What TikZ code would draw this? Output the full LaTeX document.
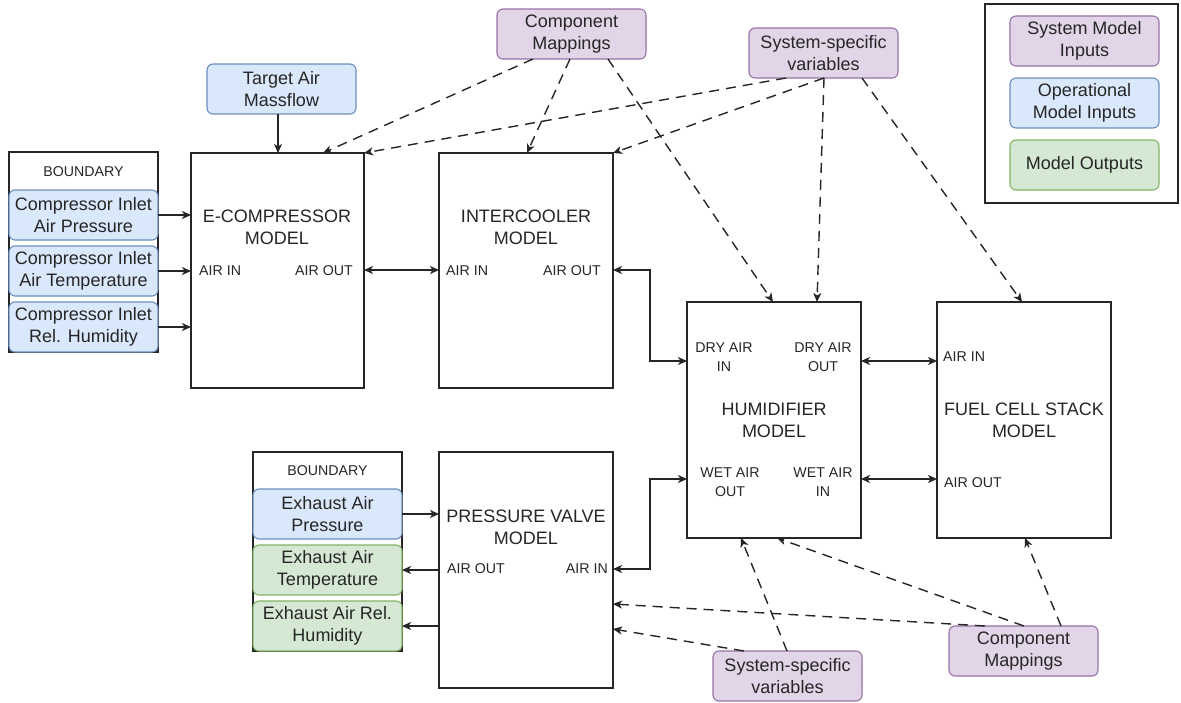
\documentclass[tikz,border=0pt]{standalone}
\usepackage{fontspec}
\setmainfont{Liberation Sans}
\usetikzlibrary{arrows.meta,calc}
\definecolor{txt}{HTML}{262626}
\definecolor{ln}{HTML}{262626}
\definecolor{purF}{HTML}{E1D5E7}\definecolor{purD}{HTML}{9673A6}
\definecolor{bluF}{HTML}{DAE8FC}\definecolor{bluD}{HTML}{6C8EBF}
\definecolor{grnF}{HTML}{D5E8D4}\definecolor{grnD}{HTML}{82B366}
\begin{document}
\begin{tikzpicture}[x=1pt,y=-1pt,
  every node/.style={text=txt, font=\fontsize{18}{21.5}\selectfont},
  mbox/.style={draw=ln, line width=1.4pt, fill=white, inner sep=0pt, outer sep=0pt, anchor=north west, minimum width=174pt, minimum height=236pt},
  bndbox/.style={draw=ln, line width=1.4pt, inner sep=0pt, outer sep=0pt, anchor=north west, minimum width=149pt, minimum height=200pt},
  cbox/.style={draw, rounded corners=6pt, line width=1.1pt, inner sep=0pt, outer sep=0pt, anchor=north west, minimum width=149pt, minimum height=50pt, align=center},
  sysin/.style={cbox, fill=purF, draw=purD},
  opin/.style={cbox, fill=bluF, draw=bluD},
  mout/.style={cbox, fill=grnF, draw=grnD},
  small/.style={font=\fontsize{14.2}{19}\selectfont, align=center, inner sep=0pt},
  ttl/.style={align=center, inner sep=0pt},
  arr/.style={draw=ln, line width=1.4pt, -{Stealth[length=9pt,width=8pt,inset=2.5pt]}},
  darr/.style={draw=ln, line width=1.4pt, {Stealth[length=9pt,width=8pt,inset=2.5pt]}-{Stealth[length=9pt,width=8pt,inset=2.5pt]}},
  dline/.style={arr, dash pattern=on 10pt off 7pt}
]
\fill[white] (0,0) rectangle (1181,702);
\useasboundingbox (0,0) rectangle (1181,702);

% level coordinates
\coordinate (yA) at (0,270);
\coordinate (yDry) at (0,361);
\coordinate (yWet) at (0,479);
\coordinate (yPv) at (0,569);

% legend
\node[draw=ln, line width=1.4pt, inner sep=0pt, outer sep=0pt, anchor=north west, minimum width=193pt, minimum height=199pt] (legend) at (985,4) {};
\node[sysin] (lg1) at (1010,16) {System Model\\Inputs};
\node[opin] (lg2) at (1010,78) {Operational\\Model Inputs};
\node[mout] (lg3) at (1010,140) {Model Outputs};

% boundary 1
\node[bndbox] (bnd1) at (9,152) {};
\node[small] (bnd1t) at (83.5,172) {BOUNDARY};
\node[opin] (cip) at (9,190) {Compressor Inlet\\Air Pressure};
\node[opin] (cit) at (9,246) {Compressor Inlet\\Air Temperature};
\node[opin] (cirh) at (9,302) {Compressor Inlet\\Rel. Humidity};

% boundary 2
\node[bndbox, minimum height=199pt] (bnd2) at (253,452) {};
\node[small] (bnd2t) at (327.5,470.5) {BOUNDARY};
\node[opin] (eap) at (253,489) {Exhaust Air\\Pressure};
\node[mout] (eat) at (253,545) {Exhaust Air\\Temperature};
\node[mout] (earh) at (253,601) {Exhaust Air Rel.\\Humidity};

% input boxes
\node[opin] (tgt) at (207,64) {Target Air\\Massflow};
\node[sysin] (cmt) at (497,9) {Component\\Mappings};
\node[sysin] (sst) at (749,28) {System-specific\\variables};
\node[sysin] (ssb) at (713,651) {System-specific\\variables};
\node[sysin] (cmb) at (949,626) {Component\\Mappings};

% model boxes
\node[mbox, minimum width=173pt, minimum height=235pt] (ecomp) at (191,153) {};
\node[mbox, minimum height=235pt] (ic) at (439,153) {};
\node[mbox] (hum) at (687,302) {};
\node[mbox] (fc) at (937,302) {};
\node[mbox] (pv) at (439,452) {};

% model labels
\node[ttl] (ecompt) at (277,227.5) {E-COMPRESSOR\\MODEL};
\node[small, anchor=west] (ecompin) at (199,271) {AIR IN};
\node[small, anchor=east] (ecompout) at (353,271) {AIR OUT};
\node[ttl] (ict) at (526,227.5) {INTERCOOLER\\MODEL};
\node[small, anchor=west] (icin) at (446,271) {AIR IN};
\node[small, anchor=east] (icout) at (601,271) {AIR OUT};
\node[ttl] (humt) at (774,420.5) {HUMIDIFIER\\MODEL};
\node[small] (dryin) at (724,357.5) {DRY AIR\\IN};
\node[small] (dryout) at (823,357.5) {DRY AIR\\OUT};
\node[small] (wetout) at (730,482.5) {WET AIR\\OUT};
\node[small] (wetin) at (823,482.5) {WET AIR\\IN};
\node[ttl] (fct) at (1024,420.5) {FUEL CELL STACK\\MODEL};
\node[small, anchor=west] (fcin) at (943,357) {AIR IN};
\node[small, anchor=west] (fcout) at (944,483) {AIR OUT};
\node[ttl] (pvt) at (526,527.5) {PRESSURE VALVE\\MODEL};
\node[small, anchor=west] (pvout) at (447,569) {AIR OUT};
\node[small, anchor=east] (pvin) at (608,569) {AIR IN};

% solid connectors
\draw[arr] ($(tgt.south)+(-3.5,0)$) -- ($(tgt.south |- ecomp.north)+(-3.5,0)$);
\draw[arr] (cip.east) -- (cip.east -| ecomp.west);
\draw[arr] (cit.east) -- (cit.east -| ecomp.west);
\draw[arr] (cirh.east) -- (cirh.east -| ecomp.west);
\draw[darr] (ecomp.east |- yA) -- (ic.west |- yA);
\draw[darr] (ic.east |- yA) -- ++(37,0) |- (hum.west |- yDry);
\draw[darr] (hum.east |- yDry) -- (fc.west |- yDry);
\draw[darr] (hum.east |- yWet) -- (fc.west |- yWet);
\draw[darr] (pv.east |- yPv) -- ++(37,0) |- (hum.west |- yWet);
\draw[arr] (eap.east) -- (eap.east -| pv.west);
\draw[arr] (pv.west |- eat) -- (eat.east);
\draw[arr] (pv.west |- earh) -- (earh.east);

% dashed connectors (top)
\draw[dline] ($(cmt.south west)+(36,0)$) -- ($(ecomp.north west)+(132,0)$);
\draw[dline] ($(cmt.south west)+(73,0)$) -- ($(ic.north west)+(88,0)$);
\draw[dline] ($(cmt.south west)+(111,0)$) -- ($(hum.north west)+(86,0)$);
\draw[dline] ($(sst.south west)+(37,0)$) -- (ecomp.north east);
\draw[dline] ($(sst.south west)+(75,0)$) -- (ic.north east);
\draw[dline] ($(sst.south west)+(75,0)$) -- ($(hum.north west)+(130,0)$);
\draw[dline] ($(sst.south west)+(113,0)$) -- ($(fc.north west)+(85,0)$);

% dashed connectors (bottom)
\draw[dline] ($(ssb.north west)+(74,0)$) -- ($(hum.south west)+(54,0)$);
\draw[dline] ($(ssb.north west)+(31,0)$) -- ($(pv.east)+(0,59)$);
\draw[dline] ($(cmb.north west)+(75,0)$) -- ($(hum.south west)+(90,0)$);
\draw[dline] ($(cmb.north west)+(36,0)$) -- ($(pv.east)+(0,34)$);
\draw[dline] ($(cmb.north west)+(112,0)$) -- ($(fc.south west)+(88,0)$);
\end{tikzpicture}
\end{document}
